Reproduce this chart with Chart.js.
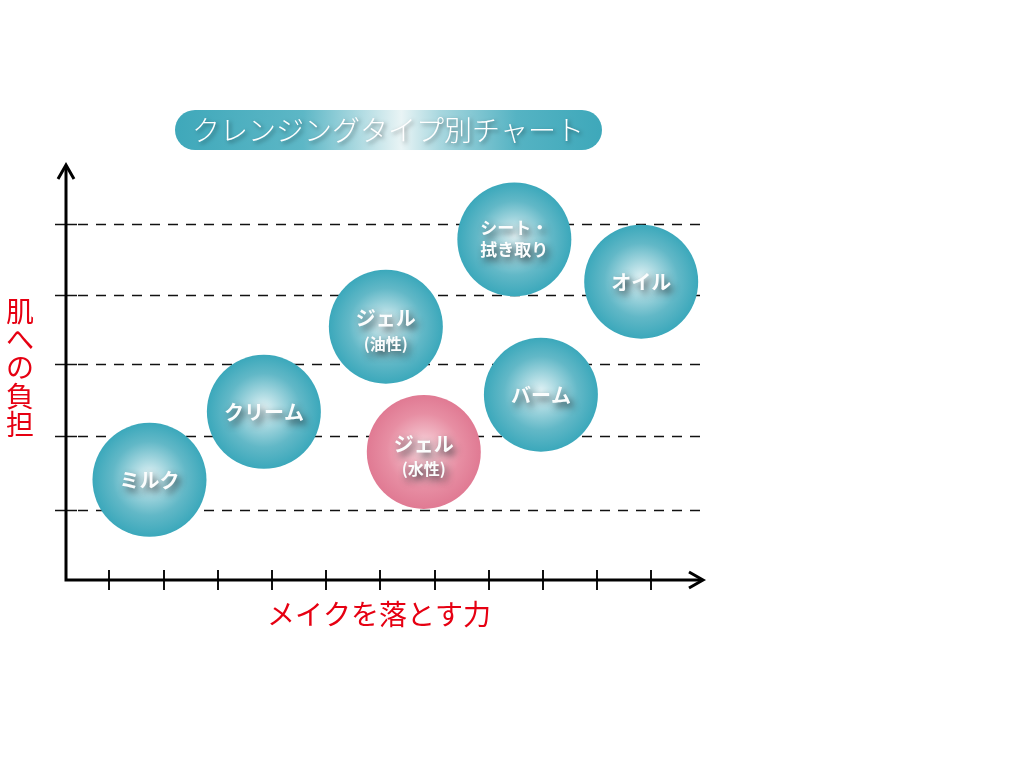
<!DOCTYPE html>
<html lang="ja">
<head>
<meta charset="utf-8">
<title>クレンジングタイプ別チャート</title>
<script src="https://cdn.jsdelivr.net/npm/chart.js@4.4.1/dist/chart.umd.min.js"></script>
<style>
  html, body { margin: 0; padding: 0; background: #fff; }
  #wrap { position: relative; width: 1032px; height: 773px; }
</style>
</head>
<body>
<div id="wrap"><canvas id="chart" width="1032" height="773"></canvas></div>
<script>
// data
const title = "クレンジングタイプ別チャート";
const xAxisLabel = "メイクを落とす力";
const yAxisLabel = "肌への負担";
const labels = [["ミルク"], ["クリーム"], ["ジェル", "(油性)"], ["ジェル", "(水性)"], ["シート・", "拭き取り"], ["バーム"], ["オイル"]];
const xValues = [1.74, 3.85, 6.10, 6.80, 8.47, 8.96, 10.81];
const yValues = [1.40, 2.35, 3.54, 1.79, 4.76, 2.59, 4.17];
const sizes = [57, 57, 57, 57, 57, 57, 57];
const kinds = ["teal", "teal", "teal", "pink", "teal", "teal", "teal"];
const xTicks = [1, 2, 3, 4, 5, 6, 7, 8, 9, 10, 11];
const yTicks = [0.98, 2.01, 3.02, 3.99, 4.98];

const palette = {
  teal: ["#e0f2f5", "#aad9e1", "#62b8c7", "#3ba8bb"],
  pink: ["#f8d9e0", "#f1b7c4", "#e78ea3", "#e07a93"]
};
const JP = '"Noto Sans CJK JP", "Noto Sans", sans-serif';

function bubbleFill(ctx) {
  if (ctx.type !== "data") return "#3ba8bb";
  const c = ctx.chart;
  const sx = c.scales.x, sy = c.scales.y;
  const cols = palette[kinds[ctx.dataIndex]];
  if (!sx || !sy) return cols[3];
  const px = sx.getPixelForValue(xValues[ctx.dataIndex]);
  const py = sy.getPixelForValue(yValues[ctx.dataIndex]);
  if (!isFinite(px) || !isFinite(py)) return cols[3];
  const r = sizes[ctx.dataIndex];
  const g = c.ctx.createRadialGradient(px, py - 4, 0, px, py, r);
  g.addColorStop(0, cols[0]);
  g.addColorStop(0.28, cols[1]);
  g.addColorStop(0.65, cols[2]);
  g.addColorStop(1, cols[3]);
  return g;
}

const decor = {
  id: "decor",
  beforeDatasetsDraw(chart) {
    const ctx = chart.ctx, sx = chart.scales.x, sy = chart.scales.y;
    const left = sx.getPixelForValue(sx.min), bottom = sy.getPixelForValue(sy.min);
    ctx.save();
    // dashed guide lines
    ctx.strokeStyle = "#111";
    ctx.lineWidth = 1.5;
    ctx.setLineDash([10, 8]);
    yTicks.forEach(v => {
      const y = Math.round(sy.getPixelForValue(v)) + 0.5;
      ctx.beginPath(); ctx.moveTo(left + 12, y); ctx.lineTo(700, y); ctx.stroke();
    });
    ctx.setLineDash([]);
    // y ticks
    yTicks.forEach(v => {
      const y = Math.round(sy.getPixelForValue(v)) + 0.5;
      ctx.beginPath(); ctx.moveTo(left - 11, y); ctx.lineTo(left + 11, y); ctx.stroke();
    });
    // x ticks
    ctx.lineWidth = 2;
    xTicks.forEach(v => {
      const x = Math.round(sx.getPixelForValue(v));
      ctx.beginPath(); ctx.moveTo(x, bottom - 10); ctx.lineTo(x, bottom + 10); ctx.stroke();
    });
    // axes with arrows
    const right = sx.getPixelForValue(sx.max), top = sy.getPixelForValue(sy.max);
    ctx.strokeStyle = "#000";
    ctx.lineWidth = 3;
    ctx.lineJoin = "miter";
    ctx.beginPath();
    ctx.moveTo(left, top + 2); ctx.lineTo(left, bottom); ctx.lineTo(right - 2, bottom);
    ctx.stroke();
    ctx.beginPath();
    ctx.moveTo(left - 8, top + 14); ctx.lineTo(left, top); ctx.lineTo(left + 8, top + 14);
    ctx.stroke();
    ctx.beginPath();
    ctx.moveTo(right - 14, bottom - 8); ctx.lineTo(right, bottom); ctx.lineTo(right - 14, bottom + 8);
    ctx.stroke();

    // axis labels
    ctx.fillStyle = "#e60012";
    ctx.font = "28px " + JP;
    ctx.textAlign = "center";
    ctx.textBaseline = "middle";
    ctx.fillText(xAxisLabel, 379, 614);
    [...yAxisLabel].forEach((ch, i) => ctx.fillText(ch, 20, 311 + i * 28.3));

    // title banner
    const bx = 175, by = 110, bw = 427, bh = 40;
    const g = ctx.createLinearGradient(bx, 0, bx + bw, 0);
    g.addColorStop(0, "#3fa8ba");
    g.addColorStop(0.3, "#5db7c6");
    g.addColorStop(0.45, "#b9dfe5");
    g.addColorStop(0.53, "#e9f4f5");
    g.addColorStop(0.62, "#a8d7df");
    g.addColorStop(0.8, "#55b3c3");
    g.addColorStop(1, "#3ea8ba");
    ctx.fillStyle = g;
    ctx.beginPath();
    ctx.roundRect(bx, by, bw, bh, bh / 2);
    ctx.fill();
    ctx.shadowColor = "rgba(0,0,0,0.45)";
    ctx.shadowBlur = 4;
    ctx.shadowOffsetX = 2;
    ctx.shadowOffsetY = 2;
    ctx.fillStyle = "#fff";
    ctx.font = "300 28px " + JP;
    ctx.fillText(title, 388, 130);
    ctx.restore();
  },
  afterDatasetsDraw(chart) {
    const ctx = chart.ctx;
    const meta = chart.getDatasetMeta(0);
    ctx.save();
    ctx.textAlign = "center";
    ctx.textBaseline = "middle";
    ctx.fillStyle = "#fbfdfd";
    ctx.shadowColor = "rgba(20,30,35,0.8)";
    ctx.shadowBlur = 7;
    ctx.shadowOffsetX = 3;
    ctx.shadowOffsetY = 4;
    meta.data.forEach((el, i) => {
      const lines = labels[i];
      if (lines.length === 1) {
        ctx.font = "bold 20px " + JP;
        ctx.fillText(lines[0], el.x, el.y + 1);
      } else if (lines[1].startsWith("(")) {
        ctx.font = "bold 20px " + JP;
        ctx.fillText(lines[0], el.x, el.y - 8);
        ctx.font = "bold 16px " + JP;
        ctx.fillText(lines[1], el.x, el.y + 17);
      } else {
        ctx.font = "bold 17px " + JP;
        ctx.fillText(lines[0], el.x, el.y - 12);
        ctx.fillText(lines[1], el.x, el.y + 10);
      }
    });
    ctx.restore();
  }
};

new Chart(document.getElementById("chart"), {
  type: "bubble",
  data: {
    datasets: [{
      data: xValues.map((x, i) => ({ x: x, y: yValues[i], r: sizes[i] })),
      backgroundColor: bubbleFill,
      borderWidth: 0,
      hoverBorderWidth: 0
    }]
  },
  options: {
    responsive: false,
    animation: false,
    events: [],
    layout: { padding: { left: 66, right: 329, top: 165, bottom: 193 } },
    scales: {
      x: { type: "linear", min: 0.2, max: 11.95, display: false },
      y: { type: "linear", min: 0, max: 5.8, display: false }
    },
    plugins: {
      legend: { display: false },
      tooltip: { enabled: false }
    }
  },
  plugins: [decor]
});
</script>
</body>
</html>
